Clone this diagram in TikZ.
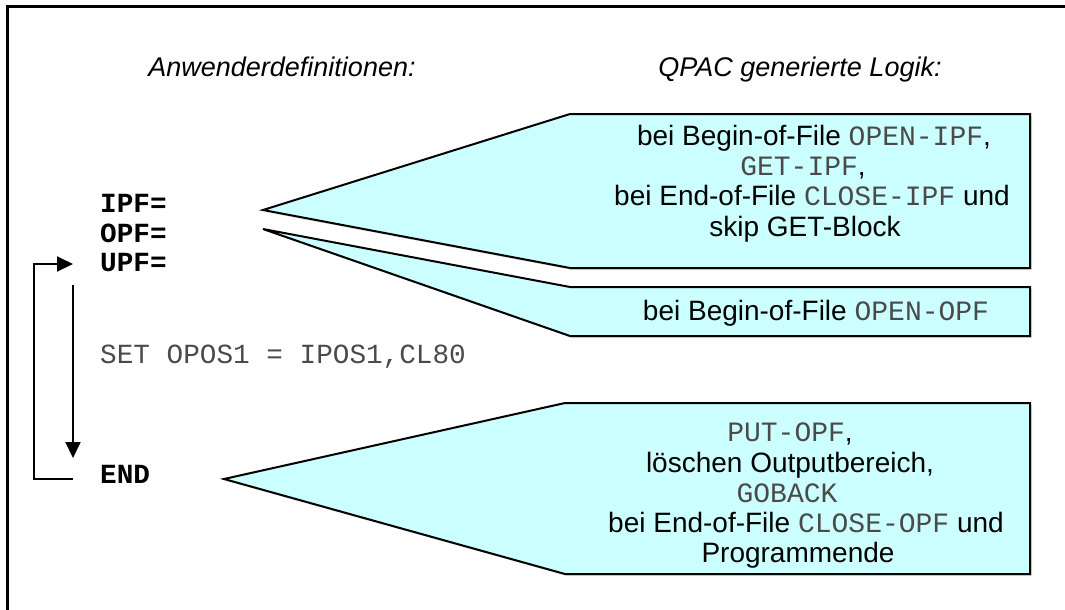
\documentclass[tikz,border=0pt]{standalone}
\usepackage{fontspec}
\setmainfont{Liberation Sans}
\setmonofont{Liberation Mono}
\usetikzlibrary{arrows.meta}
\definecolor{callfill}{HTML}{CCFFFF}
\definecolor{monogray}{HTML}{4A4A4A}
\newcommand{\cmono}[1]{{\ttfamily\color{monogray}#1}}
\begin{document}
\begin{tikzpicture}[x=1pt,y=-1pt,
  callout/.style={draw=black, line width=2pt, fill=callfill, line join=miter},
  shadowc/.style={fill=gray!25, draw=none},
  head/.style={font=\fontsize{27}{30}\selectfont\itshape, anchor=base},
  code/.style={font=\fontsize{27.7}{30}\selectfont\ttfamily\bfseries, anchor=base west, inner sep=0pt},
  plaincode/.style={font=\fontsize{27.7}{30}\selectfont\ttfamily, text=monogray, anchor=base west, inner sep=0pt},
  ctext/.style={font=\fontsize{28}{31}\selectfont, anchor=base, inner sep=0pt},
  flow/.style={line width=2pt, -{Triangle[length=16pt,width=15pt]}},
]
\useasboundingbox (0,0) rectangle (1065,610);
% frame
\draw[line width=3pt] (7.5,610) -- (7.5,7) -- (1065,7);

% headings
\node[head] (h1) at (282,76) {Anwenderdefinitionen:};
\node[head] (h2) at (800,76) {QPAC generierte Logik:};

% callout shadows
\fill[shadowc] (265,212) -- (572,116) -- (1032,116) -- (1032,270) -- (572,270) -- cycle;
\fill[shadowc] (265,231) -- (572,289) -- (1032,289) -- (1032,338) -- (572,338) -- cycle;
\fill[shadowc] (226,481) -- (567,405) -- (1032,405) -- (1032,576) -- (567,576) -- cycle;

% callouts
\draw[callout] (263,210) -- (570,114) -- (1030,114) -- (1030,268) -- (570,268) -- cycle;
\draw[callout] (263,229) -- (570,287) -- (1030,287) -- (1030,336) -- (570,336) -- cycle;
\draw[callout] (224,479) -- (565,403) -- (1030,403) -- (1030,574) -- (565,574) -- cycle;

% callout texts
\node[ctext] (c1a) at (814,145) {bei Begin-of-File \cmono{OPEN-IPF},};
\node[ctext] (c1b) at (803,175) {\cmono{GET-IPF},};
\node[ctext] (c1c) at (812,205.5) {bei End-of-File \cmono{CLOSE-IPF} und};
\node[ctext] (c1d) at (805,236) {skip GET-Block};

\node[ctext] (c2a) at (816,320) {bei Begin-of-File \cmono{OPEN-OPF}};

\node[ctext] (c3a) at (790,441) {\cmono{PUT-OPF},};
\node[ctext] (c3b) at (790,472) {löschen Outputbereich,};
\node[ctext] (c3c) at (787,502) {\cmono{GOBACK}};
\node[ctext] (c3d) at (806,532) {bei End-of-File \cmono{CLOSE-OPF} und};
\node[ctext] (c3e) at (798,562) {Programmende};

% code lines
\node[code] (ipf) at (100,212) {IPF=};
\node[code] (opf) at (100,242) {OPF=};
\node[code] (upf) at (100,271) {UPF=};
\node[plaincode] (set) at (100,363) {SET OPOS1 = IPOS1,CL80};
\node[code] (end) at (100,483) {END};

% flow arrows
\coordinate (endL) at (73,479);
\coordinate (upfL) at (73,264);
\coordinate (downS) at (73,285);
\coordinate (downE) at (73,458);
\draw[flow] (endL) -- ++(-39,0) |- (upfL);
\draw[flow] (downS) -- (downE);
\end{tikzpicture}
\end{document}
